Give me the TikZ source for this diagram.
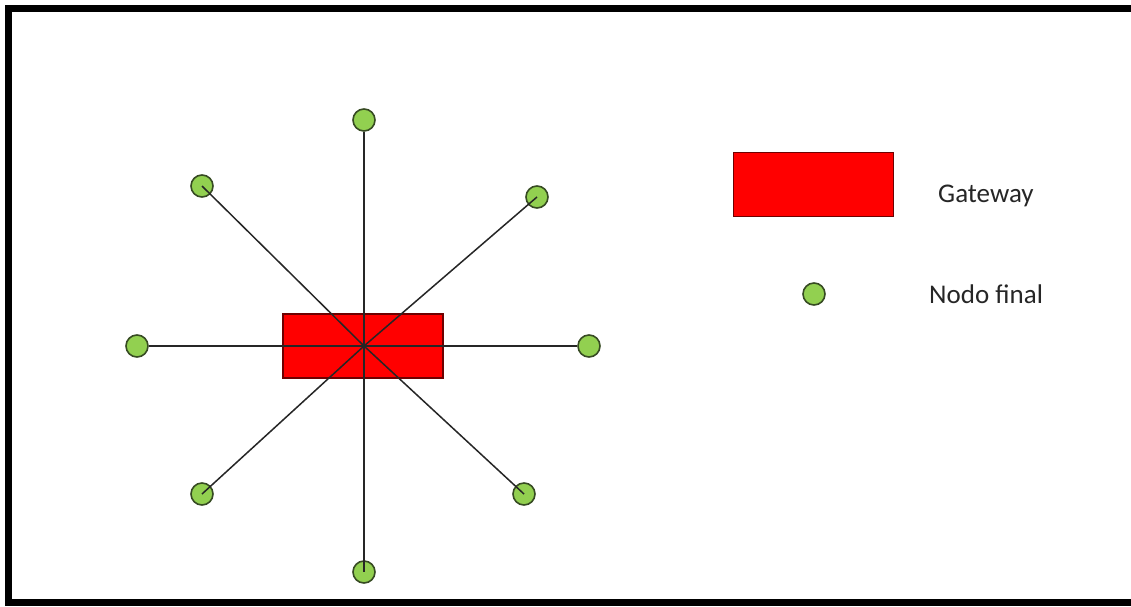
\documentclass[tikz,border=0pt]{standalone}
\usepackage{fontspec}
\setmainfont{Carlito}
\definecolor{nodegreen}{RGB}{146,208,80}
\definecolor{nodeedge}{RGB}{55,75,35}
\definecolor{gwedge}{RGB}{110,0,0}
\begin{document}
\begin{tikzpicture}[x=1pt,y=-1pt,
  gwbox/.style={draw=gwedge,line width=1.5pt,fill=red,minimum width=160pt,minimum height=64pt,inner sep=0pt},
  endnode/.style={circle,draw=nodeedge,line width=1.6pt,fill=nodegreen,minimum size=22pt,inner sep=0pt},
  link/.style={draw=black!85,line width=1.5pt},
  legendtext/.style={anchor=west,font=\fontsize{27}{32}\selectfont,text=black!85,inner sep=0pt}]
\useasboundingbox (0,0) rectangle (1131,606);
\fill[white] (0,0) rectangle (1131,606);
\draw[line width=7pt] (1140,8.5) -- (8.5,8.5) -- (8.5,602.5) -- (1140,602.5);
% gateway
\node[gwbox] (gw) at (363,346) {};
\coordinate (c) at (364,346);
% end nodes
\node[endnode] (n1) at (364,120) {};
\node[endnode] (n2) at (537,197) {};
\node[endnode] (n3) at (589,346) {};
\node[endnode] (n4) at (524,494) {};
\node[endnode] (n5) at (364,572) {};
\node[endnode] (n6) at (202,494) {};
\node[endnode] (n7) at (137,346) {};
\node[endnode] (n8) at (202,186) {};
\foreach \n in {n1,n3,n7}{
  \draw[link] (c) -- (\n);
}
\foreach \n in {n2,n4,n5,n6,n8}{
  \draw[link] (c) -- (\n.center);
}
% legend
\node[gwbox] (lgw) at (813.5,184.5) {};
\node[endnode] (lnode) at (814,294) {};
\node[legendtext] (tgw) at (938,196) {Gateway};
\node[legendtext] (tnode) at (929,294) {Nodo final};
\end{tikzpicture}
\end{document}
